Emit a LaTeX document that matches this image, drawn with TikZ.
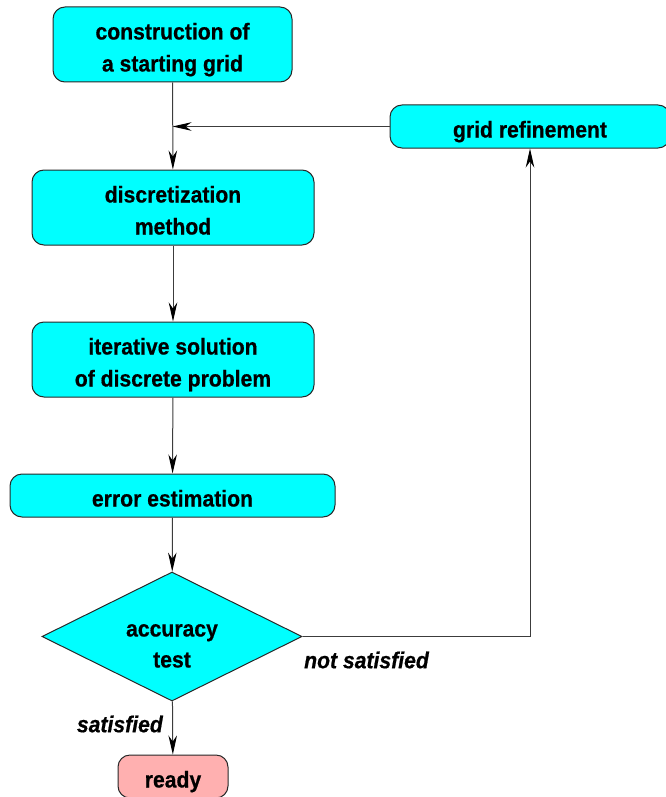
\documentclass[tikz,border=0pt]{standalone}
\usepackage{fontspec}
\setmainfont{Liberation Sans}[FakeStretch=0.92,FakeBold=0.6]
\usetikzlibrary{arrows.meta,shapes.geometric}
\definecolor{boxcyan}{RGB}{0,255,255}
\definecolor{boxpink}{RGB}{255,176,176}
\definecolor{edgegray}{RGB}{40,40,40}
\definecolor{linegray}{RGB}{60,60,60}
\newcommand\lnstrut{\rule[-5pt]{0pt}{32pt}}
\newcommand\topstrut{\rule{0pt}{36pt}}
\tikzset{
  procbox/.style={draw=edgegray, line width=1pt, fill=boxcyan, rounded corners=12pt,
    align=center, inner sep=0pt, font=\fontsize{23}{32}\selectfont\bfseries},
  endbox/.style={procbox, fill=boxpink},
  decbox/.style={draw=edgegray, line width=1pt, fill=boxcyan, diamond, aspect=2.02,
    inner sep=0pt, align=center, font=\fontsize{23}{31}\selectfont\bfseries},
  conn/.style={draw=linegray, line width=1pt, -{Stealth[length=19pt,width=8.5pt,inset=6pt,color=black]}},
  lbl/.style={font=\fontsize{23}{24}\selectfont\bfseries\itshape, inner sep=0pt}
}
\begin{document}
\begin{tikzpicture}[x=1pt,y=-1pt]
\useasboundingbox (0,0) rectangle (665,797);
\node[procbox, minimum width=239pt, minimum height=75pt] (start) at (172.5,44.5) {\lnstrut construction of\\\lnstrut a starting grid};
\node[procbox, minimum width=282pt, minimum height=75pt] (disc) at (173,207.5) {\lnstrut discretization\\\lnstrut method};
\node[procbox, minimum width=282pt, minimum height=75pt] (iter) at (173,359.5) {\lnstrut iterative solution\\\lnstrut of discrete problem};
\node[procbox, minimum width=325pt, minimum height=43pt] (err) at (172.5,495.5) {\lnstrut error estimation};
\node[decbox, minimum width=260pt, minimum height=129pt] (test) at (172,636.5) {\topstrut accuracy\\\rule[-5pt]{0pt}{5pt}test};
\node[endbox, minimum width=110pt, minimum height=43pt] (ready) at (173,776.5) {\lnstrut ready};
\node[procbox, minimum width=280pt, minimum height=43pt] (refine) at (530,126.5) {\lnstrut grid refinement};
\coordinate (join) at (start.south |- refine.west);
\coordinate (corner) at (refine.south |- test.east);
\node[lbl, anchor=west] (nots) at (304,660) {not satisfied};
\node[lbl, anchor=east] (sat) at (163,724) {satisfied};
\draw[conn] (start) -- (disc);
\draw[conn] (refine) -- (join);
\draw[conn] (disc) -- (iter);
\draw[conn] (iter) -- (err);
\draw[conn] (err) -- (test);
\draw[conn] (test) -- (ready);
\draw[conn] (test.east) -- (corner) -- (refine.south);
\end{tikzpicture}
\end{document}
